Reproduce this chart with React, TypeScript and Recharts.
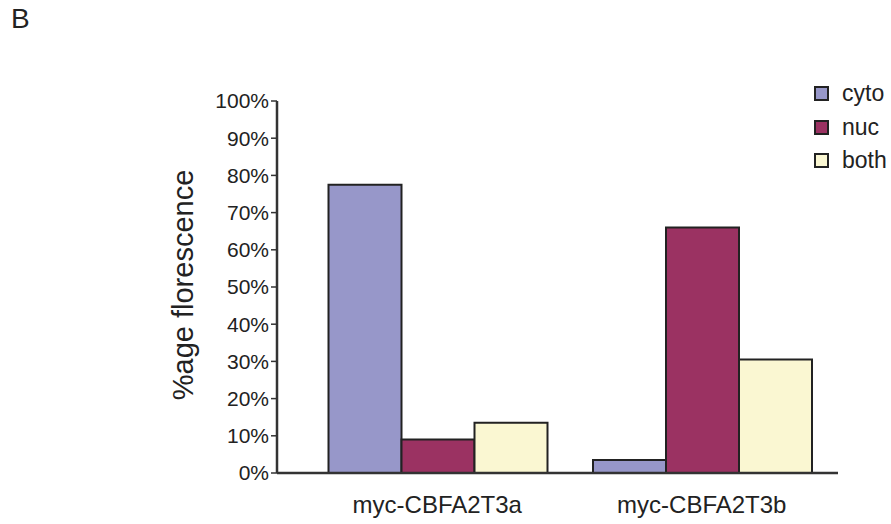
import { BarChart, Bar, XAxis, YAxis, Label } from "recharts"

const categories = ["myc-CBFA2T3a", "myc-CBFA2T3b"]
const cyto = [77.5, 3.5]
const nuc = [9, 66]
const both = [13.5, 30.5]
const yTicks = [0, 10, 20, 30, 40, 50, 60, 70, 80, 90, 100]

const series = [
  { key: "cyto", label: "cyto", color: "#9797C9" },
  { key: "nuc", label: "nuc", color: "#9B3262" },
  { key: "both", label: "both", color: "#FAF7D2" },
]

const data = categories.map((name, i) => ({
  name,
  cyto: cyto[i],
  nuc: nuc[i],
  both: both[i],
}))

const font = "'Liberation Sans', Arial, sans-serif"
const ink = "#222"

export default function App() {
  return (
    <div style={{ position: "absolute", left: 0, top: 0, width: 891, height: 524, background: "#fff", fontFamily: font }}>
      <div style={{ position: "absolute", left: 11, top: 3, fontSize: 28, color: ink }}>B</div>

      <BarChart
        width={891}
        height={524}
        data={data}
        margin={{ top: 101, right: 53, left: 0, bottom: 0 }}
        barCategoryGap={23.5}
        barGap={0}
      >
        <XAxis
          dataKey="name"
          height={51}
          padding={{ left: 28, right: 4 }}
          axisLine={{ stroke: "#333", strokeWidth: 2.5 }}
          tickLine={false}
          tickSize={0}
          tickMargin={23}
          tick={{ fill: ink, fontSize: 24, fontFamily: font }}
        />
        <YAxis
          width={277}
          domain={[0, 100]}
          ticks={yTicks}
          interval={0}
          tickFormatter={(v: number) => `${v}%`}
          axisLine={{ stroke: "#333", strokeWidth: 2.5 }}
          tickLine={{ stroke: "#333", strokeWidth: 1.5 }}
          tickSize={6}
          tickMargin={2}
          tick={{ fill: ink, fontSize: 21, fontFamily: font }}
        >
          <Label
            content={() => (
              <text
                x={183}
                y={285}
                transform="rotate(-90, 183, 285)"
                textAnchor="middle"
                dominantBaseline="central"
                fontSize={29}
                fontFamily={font}
                fill={ink}
              >
                %age florescence
              </text>
            )}
          />
        </YAxis>
        {series.map((s) => (
          <Bar
            key={s.key}
            dataKey={s.key}
            fill={s.color}
            stroke={ink}
            strokeWidth={2}
            isAnimationActive={false}
          />
        ))}
      </BarChart>

      <div style={{ position: "absolute", left: 814, top: 77 }}>
        {series.map((s) => (
          <div key={s.key} style={{ display: "flex", alignItems: "center", height: 33.5 }}>
            <div
              style={{
                width: 11,
                height: 11,
                background: s.color,
                border: `2px solid ${ink}`,
                marginRight: 13,
              }}
            />
            <span style={{ fontSize: 23, color: ink, lineHeight: 1 }}>{s.label}</span>
          </div>
        ))}
      </div>
    </div>
  )
}
